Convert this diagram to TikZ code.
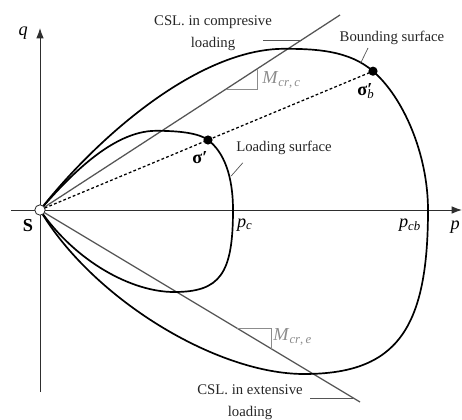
\documentclass[tikz,border=0pt]{standalone}
\usepackage{fontspec}
\setmainfont{Liberation Serif}
\usepackage{xcolor}
\definecolor{axisgray}{HTML}{2E2E2E}
\definecolor{cslgray}{HTML}{555555}
\definecolor{trigray}{HTML}{8C8C8C}
\usepackage{tikz}
\usetikzlibrary{arrows.meta, positioning}
\tikzset{
  axisline/.style={-{Latex[length=2.6mm,width=1.9mm]}, line width=0.7pt, color=axisgray},
  surf/.style    ={line width=1.2pt, color=black, line join=round},
  cslline/.style ={line width=0.9pt, color=cslgray},
  slopetri/.style={line width=0.5pt, color=trigray},
  leader/.style  ={line width=0.5pt, color=cslgray},
  stresspath/.style={line width=0.9pt, color=black, dash pattern=on 2pt off 1.6pt},
  txt/.style     ={font=\fontsize{10.5}{15.5}\selectfont, inner sep=1pt, align=center, text=black!85},
  sym/.style     ={font=\fontsize{13}{14}\selectfont, inner sep=1pt},
  msym/.style    ={font=\fontsize{13}{14}\selectfont, inner sep=0pt, anchor=west, text=trigray},
  statept/.style ={circle, fill=black, inner sep=0pt, minimum size=2.3mm},
  originpt/.style={circle, draw=axisgray, fill=white, line width=0.6pt, inner sep=0pt, minimum size=2.6mm},
}

\begin{document}
\begin{tikzpicture}
  \useasboundingbox (-1,-5.225) rectangle (10.55,5.25);
  \coordinate (S) at (0,0);
  \coordinate (qbot) at (0,-4.55);  \coordinate (qtop) at (0,4.55);
  \coordinate (pleft) at (-0.72,0); \coordinate (pright) at (10.55,0);
  \coordinate (csltop) at (7.5,4.875); \coordinate (cslbot) at (8.0,-4.8);
  \coordinate (sig) at (4.2,1.75); \coordinate (sigb) at (8.325,3.47);
  % axes
  \draw[axisline] (qbot) -- (qtop);
  \draw[axisline] (pleft) -- (pright);
  % critical state lines and slopes
  \draw[cslline] (S) -- (csltop);
  \draw[cslline] (S) -- (cslbot);
  \draw[slopetri] (4.65,3.02) -- (5.425,3.02) -- (5.425,3.526);
  \draw[slopetri] (4.925,-2.955) -- (5.775,-2.955) -- (5.775,-3.465);
  % bounding surface
  \draw[surf] (S) .. controls (1.5,1.9) and (4.0,4.03) .. (6.1,4.03)
    .. controls (6.9,4.03) and (7.725,3.99) .. (sigb)
    .. controls (9.08,2.82) and (9.7,1.4) .. (9.7,0)
    .. controls (9.7,-3.0) and (8.9,-4.1) .. (6.6,-4.1)
    .. controls (4.4,-4.1) and (1.3,-2.2) .. (S);
  % loading surface
  \draw[surf] (S) .. controls (0.7,0.8) and (1.8,1.98) .. (2.9,1.98)
    .. controls (3.45,1.98) and (3.96,1.93) .. (sig)
    .. controls (4.6,1.45) and (4.825,0.85) .. (4.825,0)
    .. controls (4.825,-1.6) and (4.5,-2.05) .. (3.35,-2.05)
    .. controls (2.3,-2.05) and (0.9,-1.3) .. (S);
  % stress path
  \draw[stresspath] (S) -- (sigb);
  \node[statept] (sigpt) at (sig) {};
  \node[statept] (sigbpt) at (sigb) {};
  \node[originpt] (origin) at (S) {};
  % labels
  \node[sym] (qlbl) at (-0.42,4.42) {\textit{q}};
  \node[sym] (plbl) at (10.38,-0.43) {\textit{p}};
  \node[sym] (slbl) at (-0.3,-0.38) {\textbf{S}};
  \node[sym] (pclbl) at (5.12,-0.37) {\textit{p}\textsubscript{\textit{c}}};
  \node[sym] (pcblbl) at (9.25,-0.38) {\textit{p}\textsubscript{\textit{cb}}};
  \node[sym] (siglbl) at (4.0,1.3) {\textbf{σ′}};
  \node[sym] (sigblbl) at (8.15,2.98) {\textbf{σ\rlap{′}}\textsubscript{\textit{b}}};
  \node[msym] (mc) at (5.55,3.25) {\textit{M}\textsubscript{\textit{cr},\,\textit{c}}};
  \node[msym] (me) at (5.83,-3.18) {\textit{M}\textsubscript{\textit{cr},\,\textit{e}}};
  \node[txt] (cslc) at (4.325,4.425) {CSL. in compresive\\loading};
  \node[txt] (csle) at (5.25,-4.81) {CSL. in extensive\\loading};
  \node[txt] (bndlbl) at (8.8,4.3) {Bounding surface};
  \node[txt] (ldglbl) at (6.1,1.55) {Loading surface};
  % leaders
  \coordinate (cslcA) at (5.575,4.25); \coordinate (cslcB) at (6.54,4.25);
  \coordinate (csleA) at (6.75,-4.7);  \coordinate (csleB) at (7.833,-4.7);
  \coordinate (bndA) at (8.2,4.05);    \coordinate (bndpt) at (8.02,3.68);
  \coordinate (ldgA) at (5.07,1.18);   \coordinate (ldgpt) at (4.78,0.85);
  \draw[leader] (cslcA) -- (cslcB);
  \draw[leader] (csleA) -- (csleB);
  \draw[leader] (bndA) -- (bndpt);
  \draw[leader] (ldgA) -- (ldgpt);
\end{tikzpicture}
\end{document}
